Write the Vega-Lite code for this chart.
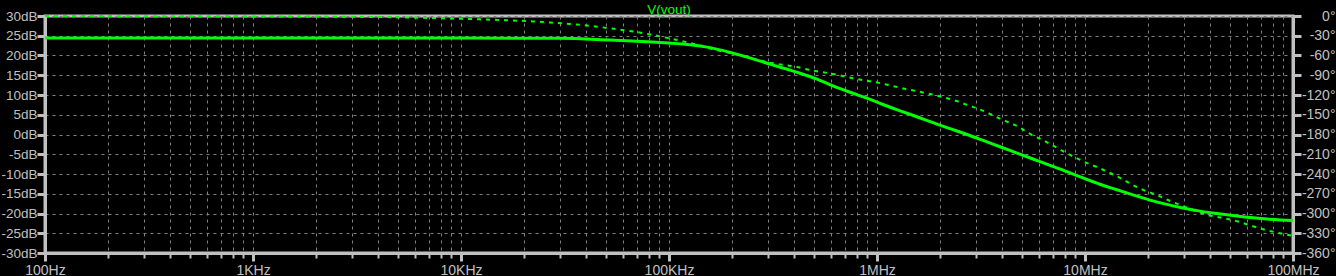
{
  "$schema": "https://vega.github.io/schema/vega-lite/v6.json",
  "width": 1248,
  "height": 237,
  "autosize": "none",
  "padding": {"left": 45, "top": 16, "right": 43, "bottom": 23},
  "background": "#000000",
  "title": {"text": "V(vout)", "color": "#00ff00", "font": "Liberation Sans", "fontSize": 13.5, "fontWeight": "normal", "offset": -7, "anchor": "middle", "frame": "group"},
  "config": {
    "view": {"stroke": "#c0c0c0", "strokeWidth": 3},
    "axis": {"labelFont": "Liberation Sans", "labelFontSize": 14, "labelColor": "#c0c0c0", "tickColor": "#c0c0c0", "domainColor": "#c0c0c0", "domainWidth": 3, "gridColor": "#808080", "gridDash": [3, 4], "gridWidth": 1, "labelFlush": false, "labelBound": false, "labelOverlap": false, "title": null}
  },
  "datasets": {
    "mag": [
      {"f": 100, "db": 24.4}, {"f": 1000, "db": 24.4}, {"f": 10000, "db": 24.4}, {"f": 29900, "db": 24.35},
      {"f": 52000, "db": 23.9}, {"f": 70000, "db": 23.6}, {"f": 90600, "db": 23.3}, {"f": 122200, "db": 22.8},
      {"f": 157400, "db": 22.0}, {"f": 196300, "db": 20.8}, {"f": 244900, "db": 19.4}, {"f": 306000, "db": 17.8},
      {"f": 381800, "db": 16.3}, {"f": 426600, "db": 15.5}, {"f": 515000, "db": 14.0}, {"f": 613800, "db": 12.3},
      {"f": 741300, "db": 10.7}, {"f": 895400, "db": 9.2}, {"f": 1069000, "db": 7.6}, {"f": 1291000, "db": 6.0},
      {"f": 1556000, "db": 4.5}, {"f": 1858000, "db": 3.0}, {"f": 2244000, "db": 1.5}, {"f": 2709000, "db": 0.0},
      {"f": 3236000, "db": -1.5}, {"f": 3902000, "db": -3.1}, {"f": 4711000, "db": -4.7}, {"f": 5623000, "db": -6.2},
      {"f": 6792000, "db": -7.8}, {"f": 8192000, "db": -9.4}, {"f": 9780000, "db": -11.0}, {"f": 11800000, "db": -12.6},
      {"f": 14250000, "db": -14.0}, {"f": 17010000, "db": -15.3}, {"f": 20530000, "db": -16.6}, {"f": 24780000, "db": -17.7},
      {"f": 29580000, "db": -18.6}, {"f": 35730000, "db": -19.4}, {"f": 43130000, "db": -20.0}, {"f": 51520000, "db": -20.5},
      {"f": 62130000, "db": -21.0}, {"f": 75000000, "db": -21.4}, {"f": 100000000, "db": -21.8}
    ],
    "phase": [
      {"f": 100, "deg": -0.1}, {"f": 1000, "deg": -0.6}, {"f": 2924, "deg": -1.2}, {"f": 5093, "deg": -2.0},
      {"f": 7096, "deg": -3.0}, {"f": 10000, "deg": -4.2}, {"f": 13770, "deg": -5.6}, {"f": 17780, "deg": -6.8},
      {"f": 22190, "deg": -8.2}, {"f": 26790, "deg": -9.8}, {"f": 33420, "deg": -12.0}, {"f": 41690, "deg": -15.0},
      {"f": 52000, "deg": -18.7}, {"f": 68640, "deg": -24.0}, {"f": 81020, "deg": -28.0}, {"f": 95670, "deg": -32.5},
      {"f": 109300, "deg": -36.5}, {"f": 122200, "deg": -40.0}, {"f": 137900, "deg": -44.0}, {"f": 152300, "deg": -48.0},
      {"f": 212300, "deg": -58.5}, {"f": 295800, "deg": -70.0}, {"f": 341800, "deg": -73.5}, {"f": 412500, "deg": -77.5},
      {"f": 476400, "deg": -82.0}, {"f": 613800, "deg": -88.0}, {"f": 766400, "deg": -94.5}, {"f": 1034000, "deg": -102.0},
      {"f": 1334000, "deg": -110.0}, {"f": 1798000, "deg": -118.5}, {"f": 2319000, "deg": -127.5}, {"f": 2800000, "deg": -136.5},
      {"f": 3236000, "deg": -144.0}, {"f": 3902000, "deg": -156.0}, {"f": 4764000, "deg": -168.0}, {"f": 5438000, "deg": -179.0},
      {"f": 6283000, "deg": -188.5}, {"f": 7175000, "deg": -198.5}, {"f": 8192000, "deg": -208.6}, {"f": 9254000, "deg": -217.0},
      {"f": 9890000, "deg": -221.3}, {"f": 11420000, "deg": -229.5}, {"f": 12900000, "deg": -237.0}, {"f": 14740000, "deg": -246.0},
      {"f": 16830000, "deg": -256.0}, {"f": 19010000, "deg": -264.0}, {"f": 22200000, "deg": -272.0}, {"f": 25060000, "deg": -279.5},
      {"f": 28620000, "deg": -287.0}, {"f": 33050000, "deg": -294.7}, {"f": 38600000, "deg": -302.0}, {"f": 44570000, "deg": -306.0},
      {"f": 55630000, "deg": -313.0}, {"f": 62130000, "deg": -318.0}, {"f": 71750000, "deg": -324.0}, {"f": 86590000, "deg": -330.0},
      {"f": 100000000, "deg": -334.0}
    ]
  },
  "layer": [
    {
      "data": {"name": "phase"},
      "mark": {"type": "line", "color": "#00ff00", "strokeWidth": 2, "strokeDash": [4, 5], "interpolate": "monotone"},
      "encoding": {
        "x": {"field": "f", "type": "quantitative", "scale": {"type": "log", "domain": [100, 100000000]},
          "axis": {
            "orient": "bottom",
            "values": [100,200,300,400,500,600,700,800,900,1000,2000,3000,4000,5000,6000,7000,8000,9000,10000,20000,30000,40000,50000,60000,70000,80000,90000,100000,200000,300000,400000,500000,600000,700000,800000,900000,1000000,2000000,3000000,4000000,5000000,6000000,7000000,8000000,9000000,10000000,20000000,30000000,40000000,50000000,60000000,70000000,80000000,90000000,100000000],
            "labelExpr": "abs(log(datum.value)/LN10 - round(log(datum.value)/LN10)) > 0.001 ? '' : datum.value >= 1000000 ? format(datum.value/1000000, 'd') + 'MHz' : datum.value >= 1000 ? format(datum.value/1000, 'd') + 'KHz' : format(datum.value, 'd') + 'Hz'",
            "grid": true,
            "tickSize": {"condition": {"test": "abs(log(datum.value)/LN10 - round(log(datum.value)/LN10)) < 0.001", "value": 8}, "value": 5},
            "tickWidth": {"condition": {"test": "abs(log(datum.value)/LN10 - round(log(datum.value)/LN10)) < 0.001", "value": 3}, "value": 2},
            "labelPadding": 2
          }
        },
        "y": {"field": "deg", "type": "quantitative", "scale": {"domain": [-360, 0], "nice": false, "zero": false},
          "axis": {"orient": "right", "values": [0,-30,-60,-90,-120,-150,-180,-210,-240,-270,-300,-330,-360], "labelExpr": "datum.value + '°'", "grid": false, "tickSize": 8, "tickWidth": 3, "labelAlign": "right", "labelPadding": 34}
        }
      }
    },
    {
      "data": {"name": "mag"},
      "mark": {"type": "line", "color": "#00ff00", "strokeWidth": 3, "interpolate": "monotone"},
      "encoding": {
        "x": {"field": "f", "type": "quantitative", "scale": {"type": "log", "domain": [100, 100000000]},
          "axis": {
            "orient": "bottom",
            "values": [100,200,300,400,500,600,700,800,900,1000,2000,3000,4000,5000,6000,7000,8000,9000,10000,20000,30000,40000,50000,60000,70000,80000,90000,100000,200000,300000,400000,500000,600000,700000,800000,900000,1000000,2000000,3000000,4000000,5000000,6000000,7000000,8000000,9000000,10000000,20000000,30000000,40000000,50000000,60000000,70000000,80000000,90000000,100000000],
            "labelExpr": "abs(log(datum.value)/LN10 - round(log(datum.value)/LN10)) > 0.001 ? '' : datum.value >= 1000000 ? format(datum.value/1000000, 'd') + 'MHz' : datum.value >= 1000 ? format(datum.value/1000, 'd') + 'KHz' : format(datum.value, 'd') + 'Hz'",
            "grid": true,
            "tickSize": {"condition": {"test": "abs(log(datum.value)/LN10 - round(log(datum.value)/LN10)) < 0.001", "value": 8}, "value": 5},
            "tickWidth": {"condition": {"test": "abs(log(datum.value)/LN10 - round(log(datum.value)/LN10)) < 0.001", "value": 3}, "value": 2},
            "labelPadding": 2
          }
        },
        "y": {"field": "db", "type": "quantitative", "scale": {"domain": [-30, 30], "nice": false, "zero": false},
          "axis": {"orient": "left", "values": [-30,-25,-20,-15,-10,-5,0,5,10,15,20,25,30], "labelExpr": "datum.value + 'dB'", "grid": true, "tickSize": 8, "tickWidth": 3, "labelPadding": 0, "labelFontSize": 13.5}
        }
      }
    }
  ],
  "resolve": {"scale": {"y": "independent"}}
}
